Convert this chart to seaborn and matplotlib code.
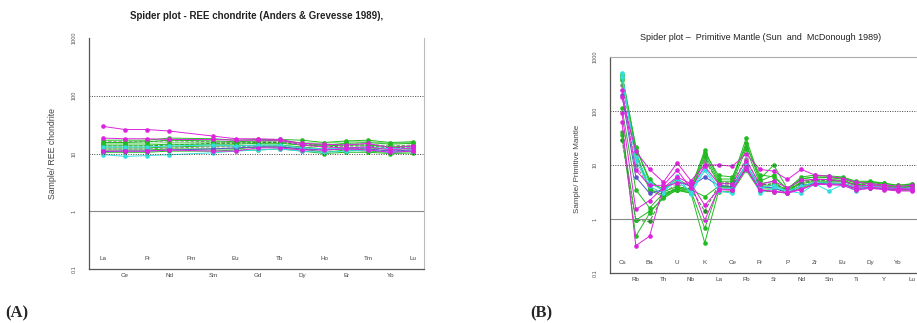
import numpy as np
import pandas as pd
import matplotlib
matplotlib.use("Agg")
import matplotlib.pyplot as plt
import seaborn as sns

sns.set_style("white")
plt.rcParams['font.family'] = ['Liberation Sans', 'DejaVu Sans']

# ---------------- Data: REE chondrite (A) ----------------
ree_elements = ["La", "Ce", "Pr", "Nd", "Pm", "Sm", "Eu", "Gd", "Tb", "Dy", "Ho", "Er", "Tm", "Yb", "Lu"]
ree_magenta1 = [29.5, 26, 26, 24.5, np.nan, 20, 18, 18, 17.5, 15, 14.5, 14, 15, 12.5, 13.5]
ree_magenta2 = [18.5, 18, 18, 17.5, np.nan, 17.5, 17, 17, 17, 14, 13, 12.5, 13, 11.5, 12.5]
ree_magenta3 = [11, 11, 11, 11.5, np.nan, 11, 11, 12.5, 12.5, 11.5, 11.5, 12, 11.5, 10.5, 11]
ree_green1 = [17, 17, 17, 18.5, np.nan, 18, 17, 17.5, 17.5, 17, 15.5, 16.5, 17, 15.5, 16]
ree_green2 = [15.5, 15.5, 16, 17, np.nan, 16.5, 16, 16.5, 17, 15, 14, 15, 15.5, 14.5, 15]
ree_green3 = [14, 14, 14, 14.5, np.nan, 14.5, 14.5, 15, 15, 14, 13.5, 14, 14, 13, 13.5]
ree_green4 = [12.5, 12.5, 12.5, 13, np.nan, 13.5, 13.5, 14, 14, 13, 12, 12.5, 12.5, 12, 12]
ree_green5 = [11.5, 11.5, 11.5, 12, np.nan, 12, 12, 13, 13, 12, 10.5, 11.5, 11, 10.5, 10.8]
ree_green6 = [10.5, 10.5, 10.5, 11, np.nan, 11, 11.5, 11.5, 12, 11, 10, 10.5, 10.5, 10, 10.2]
ree_cyan1 = [9.6, 8.9, 9.2, 9.5, np.nan, 10.3, 11, 11.5, 12, 11, 10.5, 11, 11.5, 10.5, 11]
ree_cyan2 = [13, 13, 13, 13.5, np.nan, 14, 13.5, 14, 14, 12.5, 12, 12.5, 13, 12, 12.5]
ree_gray1 = [16, 16, 16, 16.5, np.nan, 16, 15.5, 16, 16, 14.5, 14, 14.5, 14.5, 13.5, 14]
ree_gray2 = [12, 12, 12, 12.5, np.nan, 13, 13, 13.5, 13.5, 12.5, 11.5, 12, 12, 11, 11.5]
ree_blue = [10.8, 11, 11, 11.5, np.nan, 12, 12.5, 13, 13, 12, 11.5, 12, 12, 11, 11.5]
ree_dkgreen = [13.5, 13.5, 13.5, 14, np.nan, 15, 15, 15.5, 15.5, 14, 13, 13.5, 13.5, 12.5, 13]
ree_ltgreen = [15, 15, 15, 15.5, np.nan, 15.5, 15.5, 16, 16, 15.5, 15, 16, 16, 15, 15.5]

# ---------------- Data: Primitive Mantle (B) ----------------
pm_elements = ["Cs", "Rb", "Ba", "Th", "U", "Nb", "K", "La", "Ce", "Pb", "Pr",
               "Sr", "P", "Nd", "Zr", "Sm", "Eu", "Ti", "Dy", "Y", "Yb", "Lu"]
pm_cyan1 = [500, 12, 4.0, 3.0, 6.2, 2.9, 8, 3.3, 3.0, 11, 3.0, 3.8, 3.3, 3.0, 4.5, 3.3, 4.3, 3.3, 4.2, 3.8, 3.6, 3.7]
pm_green1 = [450, 21, 5.4, 3.2, 4.0, 3.5, 19, 5.5, 5.5, 31, 5.5, 10, 3.6, 6.0, 6.5, 6.3, 6.0, 5.0, 5.0, 4.6, 4.2, 4.5]
pm_green2 = [400, 18, 3.6, 2.8, 3.5, 3.2, 16, 5.0, 5.0, 26, 5.0, 6.5, 3.4, 5.5, 6.0, 5.8, 5.5, 4.6, 4.8, 4.4, 4.0, 4.2]
pm_green3 = [370, 16, 3.4, 2.6, 3.4, 3.0, 14, 4.5, 4.6, 20, 4.5, 5.0, 3.2, 5.0, 5.5, 5.4, 5.2, 4.3, 4.6, 4.2, 3.9, 4.0]
pm_magenta1 = [178, 18, 8.3, 4.8, 11, 5.1, 10, 10, 9.5, 16, 8.3, 7.7, 5.4, 8.3, 6.5, 6.2, 5.6, 4.8, 4.5, 4.3, 4.0, 4.2]
pm_green4 = [114, 3.5, 1.6, 3.0, 3.6, 3.5, 2.6, 4.0, 4.0, 10, 4.0, 4.2, 3.3, 4.5, 5.0, 5.0, 5.0, 4.2, 4.2, 4.0, 3.8, 3.9]
pm_magenta2 = [62, 0.32, 0.48, 4.0, 4.6, 4.6, 0.95, 3.6, 3.5, 8.5, 3.5, 3.2, 3.1, 3.6, 4.5, 4.4, 4.4, 3.7, 3.9, 3.7, 3.5, 3.5]
pm_green5 = [41, 0.95, 1.4, 2.4, 3.5, 3.0, 0.36, 3.2, 3.2, 8, 3.3, 3.2, 3.0, 3.8, 4.6, 4.5, 4.4, 3.6, 3.8, 3.6, 3.4, 3.4]
pm_green6 = [36, 0.48, 1.27, 2.6, 3.8, 3.3, 0.67, 3.8, 3.8, 9, 3.6, 3.6, 3.3, 4.0, 4.8, 4.7, 4.6, 3.9, 4.1, 3.9, 3.6, 3.8]
pm_dkgreen = [29, 0.95, 0.9, 2.7, 3.9, 3.6, 1.4, 4.2, 4.3, 9.5, 4.2, 4.5, 3.5, 4.6, 5.2, 5.2, 5.0, 4.3, 4.3, 4.0, 3.8, 3.9]
pm_magenta3 = [250, 8, 4.2, 4.2, 8.0, 3.7, 9.5, 4.5, 4.5, 12, 4.4, 5.0, 3.8, 5.2, 5.4, 5.4, 5.0, 4.1, 4.2, 4.0, 3.6, 3.8]
pm_gray = [300, 10, 3.8, 3.1, 4.4, 3.6, 12, 4.8, 4.7, 13, 4.3, 4.5, 3.4, 4.8, 5.3, 5.3, 5.1, 4.4, 4.5, 4.2, 3.9, 4.0]
pm_cyan2 = [420, 14, 4.6, 3.4, 5.0, 3.2, 9, 3.8, 3.6, 10.5, 3.8, 4.2, 3.3, 4.0, 4.8, 4.6, 4.6, 3.8, 4.1, 3.9, 3.7, 3.8]
pm_green7 = [480, 22, 4.8, 3.6, 5.5, 4.0, 17, 6.4, 6.0, 22, 6.6, 6.0, 3.6, 5.6, 6.0, 6.0, 5.8, 4.8, 4.9, 4.6, 4.2, 4.4]
pm_blue = [200, 6, 3.0, 3.5, 5.0, 4.0, 6, 4.2, 4.0, 10, 3.9, 3.8, 3.0, 4.2, 4.6, 4.5, 4.4, 3.6, 3.8, 3.6, 3.5, 3.5]
pm_magenta4 = [90, 1.5, 2.2, 3.8, 6.0, 4.5, 1.8, 3.5, 3.4, 9, 3.4, 3.3, 3.0, 3.5, 4.4, 4.3, 4.2, 3.4, 3.7, 3.5, 3.3, 3.3]

MAG, GRN, CYN, GRY, DKG, BLU, LTG = "#dd22dd", "#22bb22", "#33dddd", "#888888", "#2a8a2a", "#5555cc", "#88dd88"

ree_series = [
    (ree_ltgreen, LTG, "-"), (ree_gray1, GRY, "--"), (ree_dkgreen, DKG, "--"),
    (ree_green1, GRN, "-"), (ree_green2, GRN, "-"), (ree_green3, GRN, "-"),
    (ree_green4, GRN, "-"), (ree_green5, GRN, "-"), (ree_green6, GRN, "-"),
    (ree_gray2, GRY, "--"), (ree_blue, BLU, "-"), (ree_cyan2, CYN, "-"),
    (ree_cyan1, CYN, "-"), (ree_magenta3, MAG, "-"), (ree_magenta2, MAG, "-"),
    (ree_magenta1, MAG, "-"),
]
pm_series = [
    (pm_gray, GRY, "--"), (pm_dkgreen, DKG, "--"), (pm_green1, GRN, "-"),
    (pm_green2, GRN, "-"), (pm_green3, GRN, "-"), (pm_green4, GRN, "-"),
    (pm_green5, GRN, "-"), (pm_green6, GRN, "-"), (pm_green7, GRN, "-"),
    (pm_blue, BLU, "-"), (pm_cyan1, CYN, "-"), (pm_cyan2, CYN, "-"),
    (pm_magenta4, MAG, "-"), (pm_magenta3, MAG, "-"), (pm_magenta2, MAG, "-"),
    (pm_magenta1, MAG, "-"),
]

fig = plt.figure(figsize=(9.17, 3.23), dpi=100)
W, H = 917, 323


def make_axes(x0, x1, ytop, ybot):
    return fig.add_axes([x0 / W, 1 - ybot / H, (x1 - x0) / W, (ybot - ytop) / H])


def draw_panel(ax, elements, series, xpad_l, xpad_r, title, title_kw, ylabel, ylabel_pos, ylabel_size, top_spine):
    x = np.arange(len(elements))
    for vals, col, ls in series:
        df = pd.DataFrame({"x": x, "v": vals}).dropna()
        sns.lineplot(data=df, x="x", y="v", ax=ax, color=col, linestyle=ls,
                     linewidth=0.7, marker="o", markersize=3.3, markeredgewidth=0,
                     errorbar=None, sort=False)
    ax.set_yscale("log")
    ax.set_ylim(0.1, 1000)
    ax.set_xlim(-xpad_l, len(elements) - 1 + xpad_r)
    ax.axhline(100, color="#444444", linestyle=(0, (1, 1.5)), linewidth=0.7)
    ax.axhline(10, color="#444444", linestyle=(0, (1, 1.5)), linewidth=0.7)
    ax.axhline(1, color="#888888", linestyle="-", linewidth=0.8)
    for s in ["left", "bottom"]:
        ax.spines[s].set_color("#555555")
        ax.spines[s].set_linewidth(0.9)
    ax.spines["right"].set_color("#bbbbbb")
    ax.spines["right"].set_linewidth(0.8)
    ax.spines["top"].set_visible(top_spine)
    ax.spines["top"].set_color("#aaaaaa")
    # y ticks
    ax.set_yticks([0.1, 1, 10, 100, 1000])
    ax.set_yticklabels(["0.1", "1", "10", "100", "1000"], rotation=90, fontsize=4, va="center",
                       color="#555555")
    ax.tick_params(axis="y", which="major", direction="inout", length=6, width=0.7, colors="#555555", pad=6)
    ax.tick_params(axis="y", which="minor", direction="in", length=3, width=0.5, colors="#777777")
    # x ticks: all ticks pointing up; odd labels below, even labels above
    ax.set_xticks(x)
    ax.set_xticklabels([e if i % 2 == 1 else "" for i, e in enumerate(elements)], fontsize=4.5,
                       color="#444444")
    ax.tick_params(axis="x", direction="in", length=4, width=0.6, colors="#555555", pad=3,
                   labelcolor="#444444")
    tr = ax.get_xaxis_transform()
    for i, e in enumerate(elements):
        if i % 2 == 0:
            ax.text(i, 0.035, e, transform=tr, fontsize=4.5, ha="center", va="bottom", color="#444444")
    ax.set_xlabel("")
    ax.set_ylabel("")
    ax.set_title(title, **title_kw)
    ax.text(ylabel_pos[0], ylabel_pos[1], ylabel, rotation=90, fontsize=ylabel_size, ha="center",
            va="center", color="#444444", transform=ax.transAxes)


axA = make_axes(89, 424, 38, 269)
draw_panel(axA, ree_elements, ree_series, 0.63, 0.52,
           "Spider plot - REE chondrite (Anders & Grevesse 1989),",
           dict(fontsize=7, fontweight="bold", pad=14, color="#222222"),
           "Sample/ REE chondrite", (-0.11, 0.5), 6.3, top_spine=False)

axB = make_axes(610, 924, 57, 273)
draw_panel(axB, pm_elements, pm_series, 0.87, 0.9,
           "Spider plot \u2013  Primitive Mantle (Sun  and  McDonough 1989)",
           dict(fontsize=6.5, pad=12, color="#222222", x=0.48),
           "Sample/ Primitive Mantle", (-0.105, 0.48), 5.8, top_spine=True)

fig.text(5 / W, 1 - 313 / H, "(A)", fontsize=12, fontweight="bold", family="Liberation Serif",
         va="center", ha="left")
fig.text(530 / W, 1 - 313 / H, "(B)", fontsize=12, fontweight="bold", family="Liberation Serif",
         va="center", ha="left")

fig.savefig("out.png", dpi=100)
